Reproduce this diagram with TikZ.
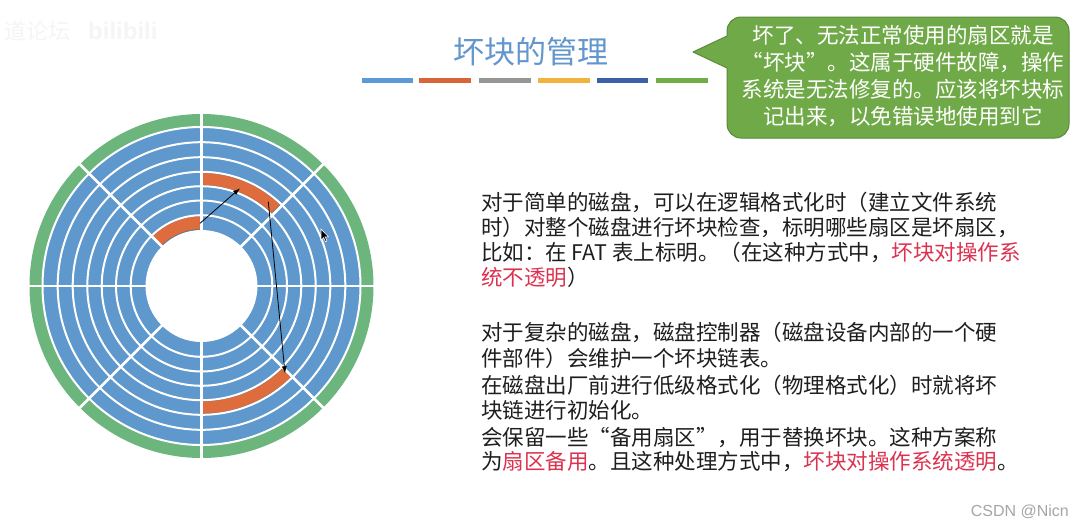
\documentclass[tikz,border=0pt]{standalone}
\usepackage{fontspec}
\newfontfamily\cjk{Noto Sans CJK SC}
\newfontfamily\latinsans{Liberation Sans}
\usetikzlibrary{arrows.meta}
\definecolor{diskblue}{RGB}{94,152,205}
\definecolor{diskgreen}{RGB}{108,182,126}
\definecolor{badorange}{RGB}{222,108,60}
\definecolor{titleblue}{RGB}{98,150,205}
\definecolor{calloutgreen}{RGB}{112,170,72}
\definecolor{calloutedge}{RGB}{88,138,58}
\definecolor{hired}{RGB}{220,50,80}
\definecolor{bodytext}{RGB}{30,30,30}
\definecolor{barblue}{RGB}{91,155,213}
\definecolor{barorange}{RGB}{216,100,56}
\definecolor{bargray}{RGB}{150,150,150}
\definecolor{baryellow}{RGB}{240,180,60}
\definecolor{bardblue}{RGB}{60,95,170}
\definecolor{bargreen}{RGB}{112,173,71}
\newcommand\zlq{\makebox[1em][r]{“}}
\newcommand\zrq{\makebox[1em][l]{”}}
\newcommand\hl[1]{{\color{hired}#1}}
\tikzset{
  body/.style={anchor=base west, inner sep=0pt, font=\cjk\fontsize{21.5}{26}\selectfont, text=bodytext},
  badblock/.style={fill=badorange, draw=black!55, line width=0.6pt},
  trackline/.style={white, line width=2pt},
  sectorline/.style={white, line width=2.6pt},
  conn/.style={black, line width=0.8pt, -{Latex[length=7pt,width=5pt]}},
  watermark/.style={anchor=west, inner sep=0pt, text=black!4}
}
\begin{document}
\begin{tikzpicture}[x=1pt,y=-1pt]
\useasboundingbox (0,0) rectangle (1074,528);
\fill[white] (0,0) rectangle (1074,528);

% watermark
\node[watermark, font=\cjk\fontsize{22}{22}\selectfont] (wm1) at (4,31) {道论坛};
\node[watermark, font=\latinsans\bfseries\fontsize{24}{24}\selectfont] (wm2) at (88,31) {bilibili};

% title
\node[inner sep=0pt, text=titleblue, font=\cjk\fontsize{31}{31}\selectfont] (title) at (531,52) {坏块的管理};
\fill[barblue]   (362,77.5) rectangle (413,82.5);
\fill[barorange] (419,77.5) rectangle (471,82.5);
\fill[bargray]   (479,77.5) rectangle (531,82.5);
\fill[baryellow] (538,77.5) rectangle (590,82.5);
\fill[bardblue]  (597,77.5) rectangle (648,82.5);
\fill[bargreen]  (656,77.5) rectangle (708,82.5);

% callout
\draw[draw=calloutedge, fill=calloutgreen, line width=1pt, rounded corners=14pt] (727,17) rectangle (1069,138);
\fill[calloutgreen] (729.5,35.2) -- (693,52) -- (729.5,68.8) -- cycle;
\draw[calloutedge, line width=1pt, line join=round] (727,36) -- (693,52) -- (727,68);
\node[align=center, inner sep=0pt, text=white, font=\cjk\fontsize{21.5}{27}\selectfont] (callout) at (903,76)
  {坏了、无法正常使用的扇区就是\\
   \zlq 坏块\zrq 。这属于硬件故障，操作\\
   系统是无法修复的。应该将坏块标\\
   记出来，以免错误地使用到它};

% disk
\begin{scope}[shift={(201.5,286)}, x=1pt, y=1pt]
  \fill[diskgreen] (0,0) circle[radius=172];
  \fill[diskblue] (0,0) circle[radius=159];
  \fill[white] (0,0) circle[radius=56];
  % bad blocks
  \path[badblock] (90.5:56.8) arc[start angle=90.5, end angle=134.5, radius=56.8]
     -- (134.5:70) arc[start angle=134.5, end angle=90.5, radius=70] -- cycle;
  \path[badblock] (89.5:100.8) arc[start angle=89.5, end angle=46, radius=100.8]
     -- (46:113.3) arc[start angle=46, end angle=89.5, radius=113.3] -- cycle;
  \path[badblock] (-89.5:115.2) arc[start angle=-89.5, end angle=-45.5, radius=115.2]
     -- (-45.5:127.8) arc[start angle=-45.5, end angle=-89.5, radius=127.8] -- cycle;
  \foreach \r in {70.8,85.5,99.8,114.2,128.8,143.8,159}
    \draw[trackline] (0,0) circle[radius=\r];
  \foreach \a in {0,45,...,315}
    \draw[sectorline] (\a:55) -- (\a:173);
  \coordinate (a1s) at (-1.5,62.7);
  \coordinate (a1e) at (38.5,97.7);
  \coordinate (a2s) at (66.8,84.3);
  \coordinate (a2e) at (83.5,-87.3);
\end{scope}
\draw[conn] (a1s) -- (a1e);
\draw[conn] (a2s) -- (a2e);

% mouse cursor
\begin{scope}[shift={(321,229)}, scale=0.75]
  \path[fill=black, draw=white, line width=0.6pt] (0,0) -- (0,15) -- (3.5,11.5) -- (6,17) -- (8,16) -- (5.5,10.5) -- (10,10.5) -- cycle;
\end{scope}

% body text
\node[body] (p1a) at (481,210.2) {对于简单的磁盘，可以在逻辑格式化时（建立文件系统};
\node[body] (p1b) at (481,235.2) {时）对整个磁盘进行坏块检查，标明哪些扇区是坏扇区，};
\node[body] (p1c) at (481,260.2) {比如：在 FAT 表上标明。（在这种方式中，\hl{坏块对操作系}};
\node[body] (p1d) at (481,285.2) {\hl{统不透明}）};

\node[body] (p2a) at (481,340.2) {对于复杂的磁盘，磁盘控制器（磁盘设备内部的一个硬};
\node[body] (p2b) at (481,366.2) {件部件）会维护一个坏块链表。};
\node[body] (p2c) at (481,393.2) {在磁盘出厂前进行低级格式化（物理格式化）时就将坏};
\node[body] (p2d) at (481,418.2) {块链进行初始化。};
\node[body] (p2e) at (481,445.2) {会保留一些\zlq 备用扇区\zrq ，用于替换坏块。这种方案称};
\node[body] (p2f) at (481,469.2) {为\hl{扇区备用}。且这种处理方式中，\hl{坏块对操作系统透明}。};

% footer
\node[anchor=east, inner sep=0pt, text=black!35, font=\latinsans\fontsize{16}{16}\selectfont] (csdn) at (1069,512) {CSDN @Nicn};
\end{tikzpicture}
\end{document}
